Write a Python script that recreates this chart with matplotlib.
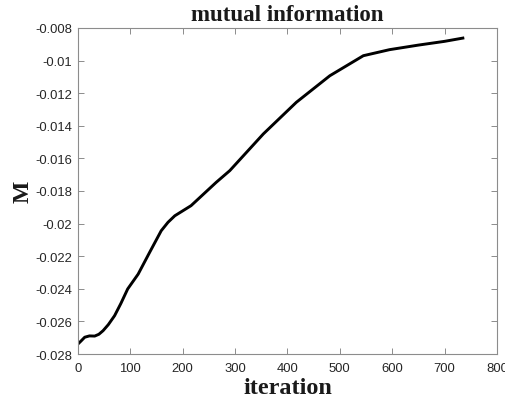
import numpy as np
import matplotlib
matplotlib.use("Agg")
import matplotlib.pyplot as plt
from matplotlib.ticker import FuncFormatter

# curva de informação mútua ao longo das iterações
iteracao = [0, 6, 13, 22, 32, 40, 48, 58, 70, 82, 95, 115, 137, 159, 172,
            185, 216, 264, 290, 354, 417, 481, 545, 595, 650, 700, 735]
mi = [-0.02739, -0.0272, -0.02697, -0.02689, -0.0269, -0.02679, -0.02657,
      -0.0262, -0.02565, -0.0249, -0.02401, -0.0231, -0.02176, -0.02044,
      -0.01992, -0.01952, -0.0189, -0.01747, -0.01675, -0.0145, -0.01256,
      -0.01093, -0.0097, -0.00933, -0.00905, -0.00882, -0.00862]

plt.rcParams["axes.unicode_minus"] = False

fig = plt.figure(figsize=(5.06, 4.06), dpi=100)
ax = fig.add_axes([0.154, 0.1256, 0.828, 0.803])

ax.plot(iteracao, mi, color="black", linewidth=2.1, solid_joinstyle="round")

ax.set_xlim(0, 800)
ax.set_ylim(-0.028, -0.008)
ax.set_xticks(np.arange(0, 801, 100))
ax.set_yticks(np.arange(-0.028, -0.0079, 0.002))
ax.yaxis.set_major_formatter(FuncFormatter(lambda v, p: "%g" % round(v, 4)))

for s in ax.spines.values():
    s.set_color("#8c8c8c")
    s.set_linewidth(0.8)
ax.tick_params(direction="in", top=True, right=True, length=4, width=0.7,
               color="#8c8c8c", labelsize=9.4, labelcolor="#262626")
ax.tick_params(axis="x", pad=6)
ax.tick_params(axis="y", pad=4)
for lbl in ax.get_xticklabels() + ax.get_yticklabels():
    lbl.set_family("Liberation Sans")

serif = dict(family="Liberation Serif", weight="bold", color="#1a1a1a")
ax.set_title("mutual information", fontsize=16.5, pad=6, **serif)
ax.set_xlabel("iteration", fontsize=17.5, labelpad=2, **serif)
ax.set_ylabel("M", fontsize=17, labelpad=1, **serif)

fig.savefig("out.png", dpi=100)
